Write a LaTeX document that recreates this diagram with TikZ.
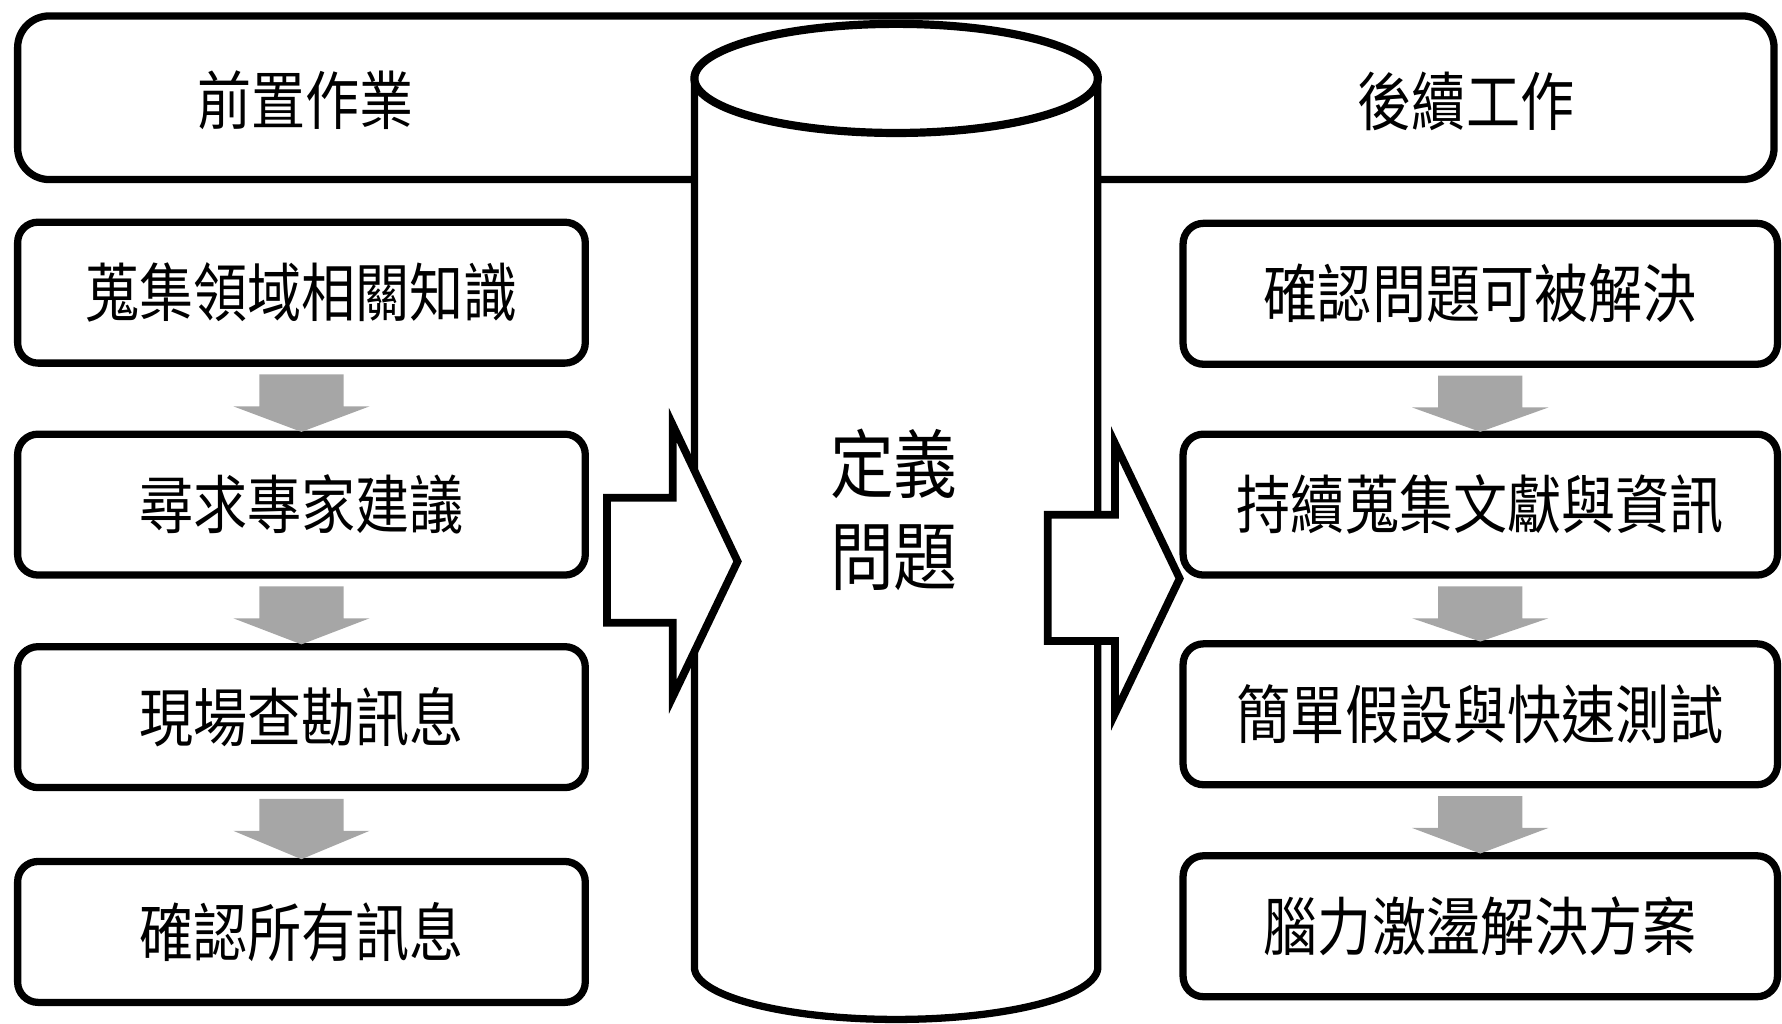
\documentclass[tikz,border=0pt]{standalone}
\usepackage{fontspec}
\newfontfamily\cjk[FakeStretch=0.85]{Noto Sans CJK TC}
\usetikzlibrary{calc}
\definecolor{arrowgrey}{HTML}{A6A6A6}
\begin{document}
\begin{tikzpicture}[x=0.5pt,y=-0.5pt,
  stepbox/.style={draw, line width=3.2pt, rounded corners=9pt, inner sep=0pt, outer sep=0pt,
    minimum height=62pt, font=\cjk\fontsize{28pt}{34pt}\selectfont},
  leftbox/.style={stepbox, minimum width=249.75pt},
  rightbox/.style={stepbox, minimum width=261.5pt},
  heading/.style={inner sep=0pt, font=\cjk\fontsize{28pt}{34pt}\selectfont},
  greyarrow/.style={fill=arrowgrey},
  bigarrow/.style={draw, fill=white, line width=3.4pt, line join=miter},
  outline/.style={draw, line width=3.2pt},
]
\useasboundingbox (0,0) rectangle (1568,901);

% top banner
\draw[outline, rounded corners=14pt] (15.5,14) rectangle (1561,158);
\node[heading] (hl) at (269,88) {前置作業};
\node[heading] (hr) at (1290,89) {後續工作};

% cylinder
\fill[white] (611,69) -- (611,851)
  .. controls (611,876.4) and (690.5,897) .. (788.5,897)
  .. controls (886.5,897) and (966,876.4) .. (966,851) -- (966,69) -- cycle;
\draw[outline] (611,69) -- (611,851)
  .. controls (611,876.4) and (690.5,897) .. (788.5,897)
  .. controls (886.5,897) and (966,876.4) .. (966,851) -- (966,69);
\draw[outline, fill=white, line width=3.6pt] (788.5,69) ellipse [x radius=177.5, y radius=48];
\node[inner sep=0pt, align=center, font=\cjk\fontsize{33pt}{40.5pt}\selectfont] (def) at (786.5,448.5) {定義\\問題};

% boxes (positions)
\path
  node[leftbox] (L1) at (265.25,257.5) {}
  node[leftbox] (L2) at (265.25,444) {}
  node[leftbox] (L3) at (265.25,631) {}
  node[leftbox] (L4) at (265.25,820) {}
  node[rightbox] (R1) at (1302.5,258.5) {}
  node[rightbox] (R2) at (1302.5,444) {}
  node[rightbox] (R3) at (1302.5,628.5) {}
  node[rightbox] (R4) at (1302.5,815) {};

% grey arrows
\foreach \a/\b in {L1/L2,L2/L3,L3/L4,R1/R2,R2/R3,R3/R4}{
  \fill[greyarrow] ($(\a.south)+(-37,10)$) -- ($(\a.south)+(37,10)$) -- ($(\a.south)+(37,38)$)
    -- ($(\a.south)+(60,38)$) -- ($(\b.north)+(0,-2)$) -- ($(\a.south)+(-60,38)$)
    -- ($(\a.south)+(-37,38)$) -- cycle;
}

% big arrows
\draw[bigarrow] (534,438) -- (592,438) -- (592,374) -- (649,494) -- (592,613) -- (592,548) -- (534,548) -- cycle;
\draw[bigarrow] (922,453) -- (981,453) -- (981,390) -- (1038,509) -- (981,628) -- (981,564) -- (922,564) -- cycle;

% box texts
\node[heading] at (L1) {蒐集領域相關知識};
\node[heading] at (L2) {尋求專家建議};
\node[heading] at (L3) {現場查勘訊息};
\node[heading] at (L4) {確認所有訊息};
\node[heading] at (R1) {確認問題可被解決};
\node[heading] at (R2) {持續蒐集文獻與資訊};
\node[heading] at (R3) {簡單假設與快速測試};
\node[heading] at (R4) {腦力激盪解決方案};
\end{tikzpicture}
\end{document}
